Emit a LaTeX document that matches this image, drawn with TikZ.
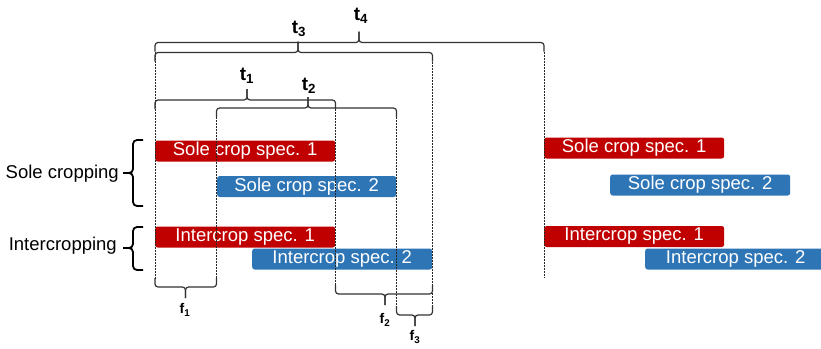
\documentclass[tikz,border=0pt]{standalone}
\usepackage{fontspec}
\setmainfont{Liberation Sans}
\definecolor{cred}{RGB}{192,0,0}
\definecolor{cblue}{RGB}{46,117,182}
\tikzset{
  bar/.style={rounded corners=2.5pt, minimum height=21pt, inner sep=0pt, text=white,
    font=\fontsize{18.5}{18.5}\selectfont, anchor=west},
  redbar/.style={bar, fill=cred},
  bluebar/.style={bar, fill=cblue},
  brc/.style={line width=1.2pt, draw=black!80, rounded corners=3pt},
  grpbrc/.style={line width=1.8pt, draw=black, rounded corners=4pt},
  vdot/.style={line width=0.8pt, draw=black!85, dash pattern=on 1.5pt off 1.5pt},
  tlab/.style={font=\fontsize{19}{19}\selectfont\bfseries, inner sep=0pt},
  flab/.style={font=\fontsize{14}{14}\selectfont\bfseries, inner sep=0pt},
  grplab/.style={font=\fontsize{18.5}{18.5}\selectfont, inner sep=0pt, anchor=east}
}
% top brace: x1 x2 xm y
\newcommand\tbrace[4]{%
  \draw[brc] (#1,#4+9) -- (#1,#4) -- (#3,#4) -- (#3,#4-11);
  \draw[brc] (#2,#4+9) -- (#2,#4) -- (#3,#4) -- (#3,#4-11);}
% bottom brace: x1 x2 xm y
\newcommand\bbrace[4]{%
  \draw[brc] (#1,#4-9) -- (#1,#4) -- (#3,#4) -- (#3,#4+11);
  \draw[brc] (#2,#4-9) -- (#2,#4) -- (#3,#4) -- (#3,#4+11);}
\begin{document}
\begin{tikzpicture}[x=1pt,y=-1pt]
\clip (0,0) rectangle (821,348);
\useasboundingbox (0,0) rectangle (821,348);

% bars left
\node[redbar, minimum width=180pt] (s1) at (155,151) {Sole crop spec. 1};
\node[bluebar, minimum width=179pt] (s2) at (217,186.5) {Sole crop spec. 2};
\node[redbar, minimum width=180pt] (i1) at (155,237) {Intercrop spec. 1};
\node[bluebar, minimum width=180pt] (i2) at (252,259) {Intercrop spec. 2};
% bars right
\node[redbar, minimum width=180pt] (rs1) at (544,148) {Sole crop spec. 1};
\node[bluebar, minimum width=180pt] (rs2) at (610,185) {Sole crop spec. 2};
\node[redbar, minimum width=180pt] (ri1) at (544,236.5) {Intercrop spec. 1};
\node[bluebar, minimum width=181pt] (ri2) at (645,259) {Intercrop spec. 2};

% dotted guides
\draw[vdot] (155,52) -- (155,279);
\draw[vdot] (216.5,117) -- (216.5,279);
\draw[vdot] (335.5,109) -- (335.5,286);
\draw[vdot] (396.5,117) -- (396.5,307);
\draw[vdot] (432.5,62) -- (432.5,307);
\draw[vdot] (544,52) -- (544,278);

% top braces
\tbrace{155}{544}{359}{42.5}
\tbrace{155}{432.5}{298}{52.5}
\tbrace{155}{335.5}{247}{100}
\tbrace{216.5}{396.5}{308}{108}
\node[tlab] (t4) at (361,16) {t\textsubscript{4}};
\node[tlab] (t3) at (299,29) {t\textsubscript{3}};
\node[tlab] (t1) at (247,76) {t\textsubscript{1}};
\node[tlab] (t2) at (309,86) {t\textsubscript{2}};

% bottom braces
\bbrace{155}{216.5}{185.5}{287}
\bbrace{335.5}{432.5}{385}{294}
\bbrace{396.5}{432.5}{415}{315}
\node[flab] (f1) at (185,310) {f\textsubscript{1}};
\node[flab] (f2) at (385,320) {f\textsubscript{2}};
\node[flab] (f3) at (415,337) {f\textsubscript{3}};

% group braces
\draw[grpbrc] (143,140) -- (133,140) -- (133,173) -- (123,173);
\draw[grpbrc] (143,206) -- (133,206) -- (133,173) -- (123,173);
\draw[grpbrc] (143,227) -- (133,227) -- (133,248) -- (123,248);
\draw[grpbrc] (143,270) -- (133,270) -- (133,248) -- (123,248);
\node[grplab] (sc) at (119,174) {Sole cropping};
\node[grplab] (ic) at (117,246) {Intercropping};
\end{tikzpicture}
\end{document}
